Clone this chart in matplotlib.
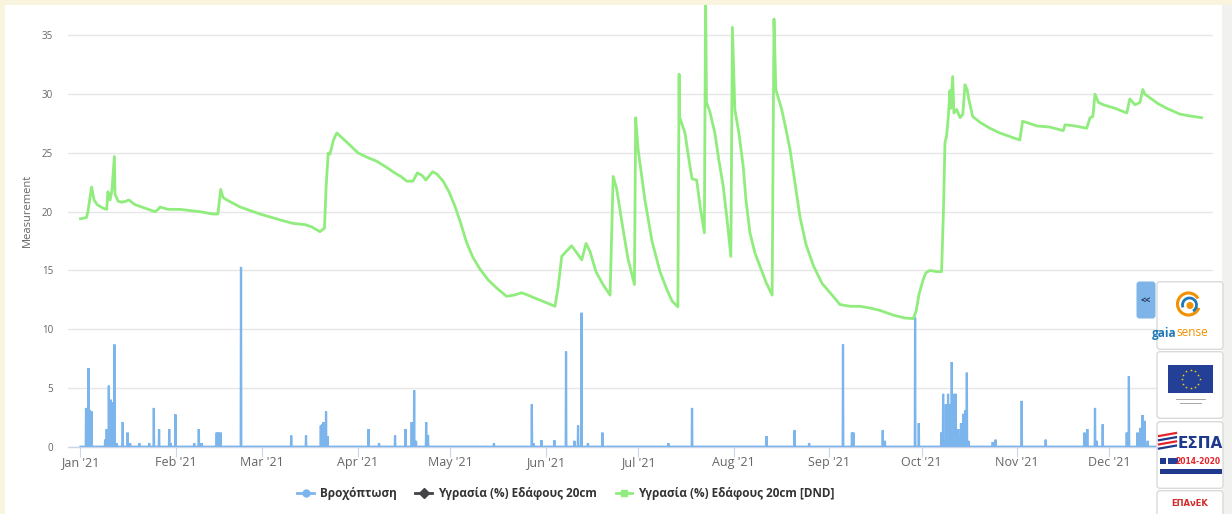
import numpy as np
import matplotlib
matplotlib.use("Agg")
import matplotlib.pyplot as plt
import matplotlib.dates as mdates
import matplotlib.patches as mpatches
from matplotlib.lines import Line2D
import datetime as dt

W, H = 1232, 514

# ---------------- data ----------------
# days since 2021-01-01
green_day = [0, 1.9, 2.4, 3.6, 4.4, 5.4, 7.3, 8.5, 8.9, 9.6, 10.2, 11.0, 11.2, 12.2, 13.4, 14.8,
             15.7, 17.7, 20.9, 24.2, 25.2, 25.8, 28.4, 32.3, 35.5, 38.8, 43.0, 44.6, 45.5, 46.3,
             47.5, 51.8, 58.3, 64.8, 69.0, 72.9, 75.1, 77.7, 79.2, 79.7, 80.4, 81.0, 82.1, 83.2,
             86.5, 90.1, 93.3, 96.1, 99.2, 102.6, 104.0, 105.9, 107.9, 109.3, 110.8, 112.1, 114.3,
             115.7, 117.7, 119.6, 121.5, 123.2, 125.3, 127.4, 129.7, 132.3, 135.1, 138.3, 140.7,
             143.2, 145.2, 147.0, 150.8, 154.0, 155.0, 156.2, 157.6, 159.4, 161.1, 162.7, 164.1,
             165.4, 167.3, 169.6, 171.9, 172.9, 174.0, 175.8, 177.7, 179.8, 180.2, 181.0, 183.2,
             185.5, 188.1, 190.3, 192.0, 193.9, 194.3, 194.4, 196.2, 197.8, 198.5, 200.0, 201.1,
             202.5, 202.9, 203.2, 204.3, 205.9, 207.2, 208.6, 209.8, 211.1, 211.6, 212.4, 213.7,
             215.1, 216.0, 217.3, 218.9, 220.5, 222.5, 224.5, 225.1, 225.7, 227.6, 229.0, 230.3,
             231.9, 233.5, 235.5, 237.9, 240.7, 244.3, 246.5, 249.8, 253.0, 256.3, 259.5, 263.8,
             267.6, 270.3, 271.2, 272.2, 273.5, 274.4, 275.7, 278.0, 279.5, 280.1, 280.6, 281.1,
             281.7, 282.2, 282.5, 283.1, 283.5, 284.4, 285.5, 286.4, 287.1, 287.8, 288.4, 289.6,
             292.0, 295.2, 298.4, 301.7, 304.9, 305.8, 308.2, 310.4, 314.7, 319.0, 319.6, 322.8,
             326.6, 327.7, 328.6, 329.3, 330.4, 332.0, 335.8, 339.6, 340.6, 342.3, 343.9, 344.8,
             345.5, 347.1, 349.7, 352.6, 356.9, 360.1, 363.9]
green_val = [19.4, 19.5, 20.0, 22.1, 21.0, 20.6, 20.3, 20.2, 21.7, 21.0, 21.8, 24.7, 21.5, 20.9, 20.8, 20.9,
             21.0, 20.6, 20.3, 20.0, 20.2, 20.4, 20.2, 20.2, 20.1, 20.0, 19.8, 19.8, 21.9, 21.2,
             21.0, 20.4, 19.8, 19.3, 19.0, 18.9, 18.7, 18.3, 18.6, 22.0, 25.0, 24.9, 26.1, 26.7,
             25.9, 25.0, 24.6, 24.3, 23.8, 23.2, 23.0, 22.6, 22.6, 23.3, 23.1, 22.7, 23.4,
             23.2, 22.6, 21.7, 20.5, 19.2, 17.4, 16.1, 15.1, 14.2, 13.5, 12.8, 12.9,
             13.1, 12.9, 12.7, 12.3, 11.95, 13.5, 16.2, 16.6, 17.1, 16.5, 15.9, 17.3,
             16.6, 14.9, 13.8, 12.9, 23.0, 22.0, 19.0, 16.0, 13.8, 28.0, 25.3, 21.0,
             17.5, 14.9, 13.4, 12.4, 11.9, 31.7, 28.1, 26.7, 23.9, 22.8, 22.7, 20.5,
             18.2, 38.5, 29.3, 28.5, 26.7, 24.4, 22.2, 19.5, 16.2, 35.7, 28.7, 26.7,
             23.9, 21.0, 18.2, 16.5, 15.4, 14.0, 12.9, 36.4, 30.4, 28.7, 27.0, 25.3,
             22.5, 19.6, 17.2, 15.4, 13.9, 12.8, 12.1, 11.95, 11.95, 11.8, 11.6, 11.2,
             10.95, 10.9, 11.5, 13.0, 14.2, 14.8, 15.0, 14.9, 14.9, 20.0, 25.9, 26.4,
             28.1, 30.3, 28.8, 31.5, 28.4, 28.7, 28.0, 28.3, 30.8, 30.4, 29.5, 28.1,
             27.6, 27.1, 26.7, 26.4, 26.1, 27.7, 27.5, 27.3, 27.2, 26.9, 27.4, 27.3,
             27.1, 28.0, 28.1, 30.0, 29.3, 29.1, 28.8, 28.4, 29.6, 29.1, 29.3, 30.4,
             30.0, 29.7, 29.2, 28.8, 28.3, 28.15, 28.0]

rain_day = [1.8, 2.2, 2.65, 3.0, 3.3, 3.6, 7.95, 8.5, 9.15, 9.5, 9.8, 10.2, 10.45, 11.0, 11.7,
            13.7, 15.3, 16.1, 19.1, 22.3, 23.8, 25.5, 28.8, 29.3, 30.8, 36.9, 38.4, 39.3,
            44.2, 44.8, 45.5, 52.1, 68.4, 73.2, 78.0, 78.5, 78.8, 79.7, 80.2, 93.5, 96.9,
            102.1, 105.5, 107.5, 108.3, 108.9, 112.2, 112.8, 134.2, 146.5, 147.0, 149.6,
            153.8, 157.6, 160.3, 161.5, 162.6, 164.7, 169.4, 190.8, 198.5, 222.7, 231.8,
            236.5, 247.5, 250.4, 250.9, 260.4, 261.1, 270.9, 272.1, 279.4, 280.0, 280.9,
            281.6, 282.2, 282.8, 283.5, 284.1, 284.9, 285.8, 286.6, 287.2, 287.7, 288.2,
            296.1, 297.0, 305.5, 313.3, 325.9, 326.8, 329.3, 329.8, 331.8, 339.6, 340.3,
            343.1, 344.0, 344.7, 345.4, 346.4]
rain_val = [3.3, 3.2, 6.7, 3.1, 3.0, 3.0, 0.6, 1.5, 5.2, 3.5, 4.0, 3.8, 3.8, 8.7, 0.3,
            2.1, 1.2, 0.3, 0.3, 0.3, 3.3, 1.5, 1.5, 0.3, 2.75, 0.3, 1.5, 0.3,
            1.2, 1.2, 1.2, 15.3, 0.95, 0.95, 1.8, 1.9, 2.1, 3.0, 0.9, 1.5, 0.3,
            0.95, 1.5, 2.1, 4.8, 0.5, 2.1, 1.0, 0.3, 3.6, 0.3, 0.55,
            0.55, 8.1, 0.5, 1.8, 11.4, 0.3, 1.2, 0.3, 3.3, 0.9, 1.4,
            0.3, 8.7, 1.2, 1.2, 1.4, 0.5, 11.0, 2.0, 1.2, 4.5, 3.6,
            4.5, 3.6, 7.2, 4.5, 4.5, 1.5, 2.0, 2.8, 3.1, 6.3, 0.5,
            0.4, 0.6, 3.9, 0.6, 1.2, 1.5, 3.3, 0.5, 1.9, 1.2, 6.0,
            1.2, 1.6, 2.7, 2.2, 0.5]

moist_day = []   # "Υγρασία (%) Εδάφους 20cm" has no data in the view
moist_val = []

series_names = ["Βροχόπτωση", "Υγρασία (%) Εδάφους 20cm", "Υγρασία (%) Εδάφους 20cm [DND]"]
series_colors = ["#7cb5ec", "#434348", "#90ed7d"]
series_markers = ["o", "D", "s"]
y_ticks = [0, 5, 10, 15, 20, 25, 30, 35]
month_ticks = [dt.datetime(2021, m, 1) for m in range(1, 13)]

# ---------------- figure ----------------
plt.rcParams['font.family'] = ['Open Sans', 'DejaVu Sans']
fig = plt.figure(figsize=(W / 100, H / 100), dpi=100, facecolor="#f8f4dd")
# white page + grey right strip
fig.patches.append(mpatches.Rectangle((5 / W, 0), (1222 - 5) / W, 1 - 5 / H,
                                      transform=fig.transFigure, fc="white", ec="none", zorder=-5))
fig.patches.append(mpatches.Rectangle((1222 / W, 0), 10 / W, 1 - 5 / H,
                                      transform=fig.transFigure, fc="#f1f1ef", ec="none", zorder=-5))

ax_l, ax_r, ax_b, ax_t = 68.3, 1213, 446.7, 5
ax = fig.add_axes([ax_l / W, 1 - ax_b / H, (ax_r - ax_l) / W, (ax_b - ax_t) / H])
ax.set_facecolor("none")
ax.set_zorder(1)

base = mdates.date2num(dt.datetime(2021, 1, 1))

# rainfall as a fine time series (0 except readings)
step = 0.1
grid_days = np.arange(0, 364 + step / 2, step)
rain_series = np.zeros_like(grid_days)
for d, v in zip(rain_day, rain_val):
    rain_series[int(round(d / step))] = v
ax.plot(base + grid_days, rain_series, color=series_colors[0], lw=1.6, zorder=3,
        solid_joinstyle="miter")
ax.plot(base + np.array(moist_day, dtype=float), np.array(moist_val, dtype=float),
        color=series_colors[1], lw=2, zorder=3)
ax.plot(base + np.array(green_day), green_val, color=series_colors[2], lw=2, zorder=4,
        solid_joinstyle="round")

ax.set_ylim(0, (ax_b - ax_t) / 11.75)
ax.set_xlim(base - 3.96, base + 367.6)
ax.set_yticks(y_ticks)
ax.set_yticklabels([str(v) for v in y_ticks])
ax.set_xticks([mdates.date2num(d) for d in month_ticks])
ax.xaxis.set_major_formatter(mdates.DateFormatter("%b '%y"))

ax.grid(axis="y", color="#e6e6e6", lw=1)
ax.set_axisbelow(True)
for s in ["top", "right", "left"]:
    ax.spines[s].set_visible(False)
ax.spines["bottom"].set_color("#ccd6eb")
ax.spines["bottom"].set_linewidth(1)
ax.tick_params(axis="y", length=0, pad=11, labelsize=7, labelcolor="#666666")
ax.tick_params(axis="x", length=7, width=0.8, color="#ccd6eb", pad=-0.5,
               labelsize=9, labelcolor="#666666")

fig.text(27 / W, 1 - 210 / H, "Measurement", rotation=90, ha="center", va="center",
         fontsize=8, color="#666666")

# legend
handles = [Line2D([0], [0], color=c, lw=2, marker=m, markersize=ms, markeredgecolor=c)
           for c, m, ms in zip(series_colors, series_markers, [5, 5, 5])]
leg = fig.legend(handles, series_names, loc="center", bbox_to_anchor=(566 / W, 1 - 494 / H),
                 ncol=3, frameon=False, handlelength=1.4, handletextpad=0.5, columnspacing=1.6,
                 prop={"size": 8.5, "weight": "bold"})
for t in leg.get_texts():
    t.set_color("#333333")

# ---------------- overlay widgets (logos) ----------------
ov = fig.add_axes([0, 0, 1, 1], zorder=10)
ov.set_xlim(0, W)
ov.set_ylim(H, 0)
ov.axis("off")
ov.patch.set_alpha(0)

ov.add_patch(mpatches.FancyBboxPatch((1136.5, 281.5), 19, 37, boxstyle="round,pad=0,rounding_size=3",
                                     fc="#7fb4e8", ec="none"))
ov.text(1146, 300, "<<", ha="center", va="center", fontsize=6.5, color="#1c2c4c", fontweight="bold")
for (y0, y1) in [(281.7, 349.3), (351.7, 418.3), (421.7, 488.3), (490.7, 530)]:
    ov.add_patch(mpatches.FancyBboxPatch((1157, y0), 66, y1 - y0, boxstyle="round,pad=0,rounding_size=3",
                                         fc="white", ec="#dadada", lw=1))
# gaiasense
ov.add_patch(mpatches.Arc((1188.5, 304), 22, 22, theta1=20, theta2=330, color="#f29100", lw=2.2))
ov.add_patch(mpatches.Arc((1189.5, 305), 14, 14, theta1=160, theta2=420, color="#1d79b8", lw=2.0))
ov.add_patch(mpatches.Circle((1190, 305.5), 2.8, color="#f29100"))
ov.text(1176, 333, "gaia", ha="right", va="center", fontsize=8.5, color="#1d79b8", fontweight="bold")
ov.text(1176, 333, "sense", ha="left", va="center", fontsize=8.5, color="#f29100")
# EU flag
ov.add_patch(mpatches.Rectangle((1168.3, 365), 44.4, 28.3, fc="#233f96", ec="none"))
ang = np.linspace(0, 2 * np.pi, 12, endpoint=False)
ov.scatter(1190.5 + 9 * np.cos(ang), 379 + 9 * np.sin(ang), s=4, color="#ffdd00", marker="*", lw=0)
ov.plot([1176, 1205], [399, 399], color="#999999", lw=0.6)
ov.plot([1180, 1201], [402.5, 402.5], color="#999999", lw=0.6)
# ESPA
for i, c in enumerate(["#e3262b", "#1f3a8c", "#e3262b", "#1f3a8c"]):
    ov.plot([1159, 1176], [436 + i * 4.2, 433 + i * 4.2], color=c, lw=1.6)
ov.text(1200, 444, "ΕΣΠΑ", ha="center", va="center", fontsize=11, color="#1f3a8c", fontweight="bold",
        family=["DejaVu Sans"])
ov.add_patch(mpatches.Rectangle((1160, 458), 6, 6, fc="#1f3a8c", ec="none"))
ov.add_patch(mpatches.Rectangle((1168, 458), 10, 6, fc="#233f96", ec="none"))
ov.text(1221, 461.5, "2014-2020", ha="right", va="center", fontsize=5.5, color="#e3262b", fontweight="bold",
        family=["DejaVu Sans Condensed", "DejaVu Sans"])
ov.add_patch(mpatches.Rectangle((1160, 469), 62, 5, fc="#1f3a8c", ec="none"))
# EPAnEK
ov.text(1190, 504, "ΕΠΑνΕΚ", ha="center", va="center", fontsize=6, color="#d42a2a", fontweight="bold",
        family=["DejaVu Sans"])

fig.savefig("out.png", dpi=100, facecolor=fig.get_facecolor())
